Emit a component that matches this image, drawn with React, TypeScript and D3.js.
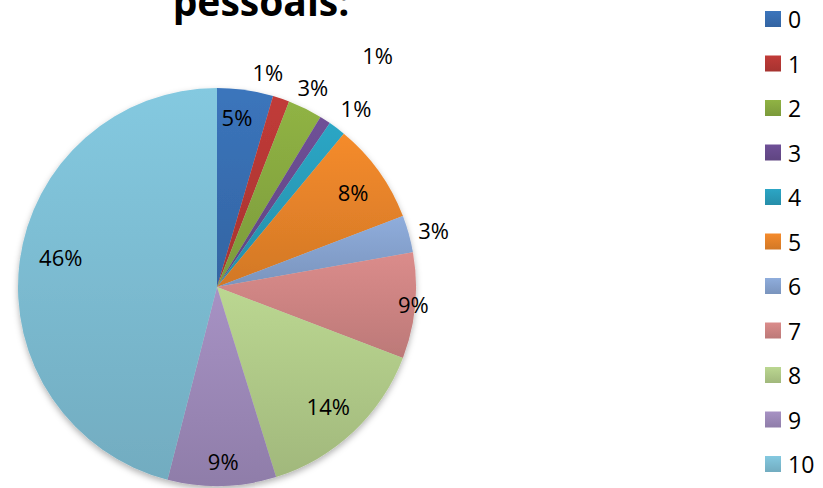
import React from "react";
import * as d3 from "d3";

const categories = ["0", "1", "2", "3", "4", "5", "6", "7", "8", "9", "10"];
const values = [4.55, 1.35, 2.8, 0.9, 1.4, 8.2, 3.0, 8.6, 14.4, 8.8, 46.0];
const colors = ["#3a73b9", "#be3a37", "#8db043", "#6d4f94", "#2ba3c2", "#f1892b", "#8caad8", "#d78a89", "#b8d38e", "#a48fc1", "#82c5dc"];
const titleText = "pessoais:";

// label placement: radius factor and angular offset (degrees)
const labelRadius = [0.86, 1.11, 1.115, 1.42, 1.14, 0.835, 1.125, 0.99, 0.82, 0.875, 0.8];
const labelOffset = [-1.5, -5.5, -0.7, 1.7, 0.7, 0.6, 0.8, -0.5, 0.2, -0.6, 3.8];

const W = 823;
const H = 488;
const cx = 217;
const cy = 287;
const R = 199;

export default function App() {
  const pie = d3.pie<number>().sort(null).value((d) => d).startAngle(0).endAngle(2 * Math.PI);
  const arcs = pie(values);
  const arc = d3.arc<d3.PieArcDatum<number>>().innerRadius(0).outerRadius(R);
  const total = d3.sum(values);
  const legendY = d3.scalePoint<string>().domain(categories).range([19, 464]);

  return (
    <svg width={W} height={H} style={{ position: "absolute", left: 0, top: 0, background: "#fff" }} fontFamily="'Open Sans', sans-serif">
      <defs>
        {colors.map((c, i) => (
          <linearGradient key={i} id={`g${i}`} x1="0" y1="0" x2="0" y2="1">
            <stop offset="0" stopColor={d3.color(c)!.brighter(0.05).formatHex()} />
            <stop offset="1" stopColor={d3.color(c)!.darker(0.38).formatHex()} />
          </linearGradient>
        ))}
        <filter id="shadow" x="-20%" y="-20%" width="140%" height="140%">
          <feDropShadow dx="0" dy="3" stdDeviation="3" floodColor="#000" floodOpacity="0.3" />
        </filter>
      </defs>
      <text x={261} y={16} textAnchor="middle" fontSize={39} fontWeight="bold" fill="#000">
        {titleText}
      </text>
      <g transform={`translate(${cx},${cy})`}>
        <g filter="url(#shadow)">
          {arcs.map((a, i) => (
            <path key={i} d={arc(a) || ""} fill={`url(#g${i})`} />
          ))}
        </g>
        {arcs.map((a, i) => {
          const mid = (a.startAngle + a.endAngle) / 2 + (labelOffset[i] * Math.PI) / 180;
          const r = R * labelRadius[i];
          const x = Math.sin(mid) * r;
          const y = -Math.cos(mid) * r;
          return (
            <text key={i} x={x} y={y} textAnchor="middle" dominantBaseline="central" fontSize={22} fill="#000">
              {`${Math.round((a.data / total) * 100)}%`}
            </text>
          );
        })}
      </g>
      <g>
        {categories.map((c, i) => (
          <g key={c} transform={`translate(765,${legendY(c)})`}>
            <rect x={0} y={-8} width={16} height={16} fill={`url(#g${i})`} />
            <text x={23} y={0} dominantBaseline="central" fontSize={23} fill="#000">
              {c}
            </text>
          </g>
        ))}
      </g>
    </svg>
  );
}
